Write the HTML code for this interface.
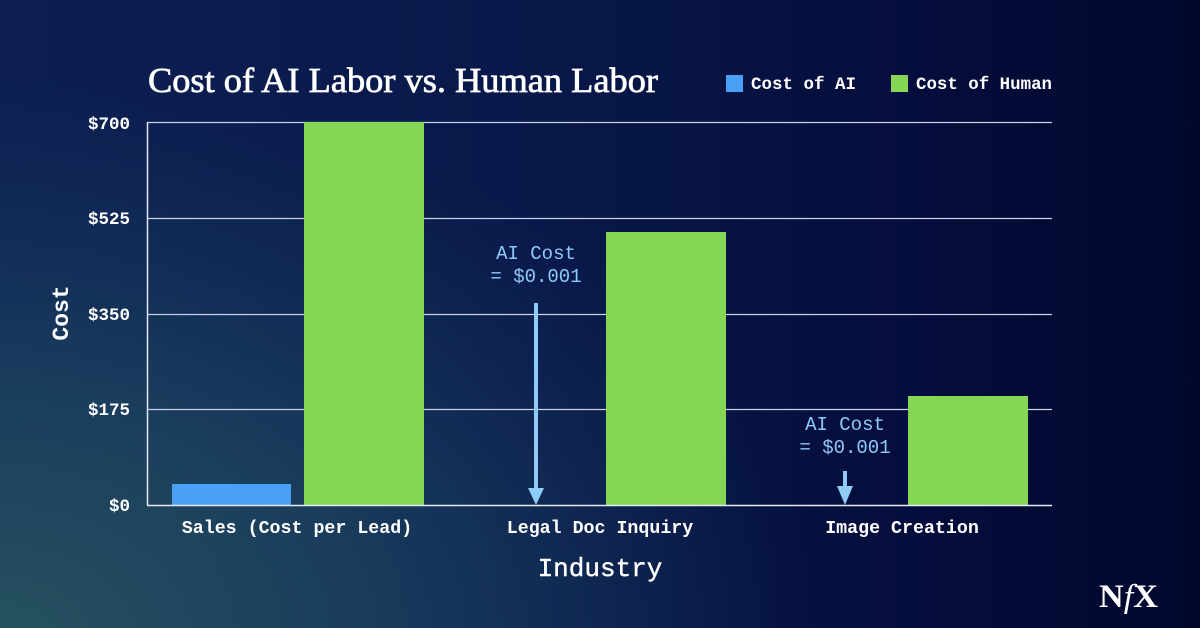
<!DOCTYPE html>
<html>
<head>
<meta charset="utf-8">
<style>
  html,body{margin:0;padding:0;}
  body{width:1200px;height:628px;overflow:hidden;}
  svg{display:block;}
</style>
</head>
<body>
<svg width="1200" height="628" viewBox="0 0 1200 628" xmlns="http://www.w3.org/2000/svg">
  <defs>
    <linearGradient id="bg" x1="0" y1="0" x2="1200" y2="0" gradientUnits="userSpaceOnUse">
      <stop offset="0" stop-color="#0d1f52"/>
      <stop offset="0.5" stop-color="#081748"/>
      <stop offset="0.8" stop-color="#040c3a"/>
      <stop offset="1" stop-color="#02072d"/>
    </linearGradient>
    <radialGradient id="teal" cx="0" cy="640" r="1" gradientUnits="userSpaceOnUse" gradientTransform="translate(0,640) scale(820,560) translate(0,-640)">
      <stop offset="0" stop-color="#27535f" stop-opacity="1"/>
      <stop offset="0.45" stop-color="#1d4560" stop-opacity="0.8"/>
      <stop offset="1" stop-color="#163a5e" stop-opacity="0"/>
    </radialGradient>
  </defs>
  <rect x="0" y="0" width="1200" height="628" fill="url(#bg)"/>
  <rect x="0" y="0" width="1200" height="628" fill="url(#teal)"/>

  <!-- Title -->
  <text x="148" y="92" font-family="Liberation Serif, serif" font-size="35" fill="#ffffff" stroke="#ffffff" stroke-width="0.7" textLength="510" lengthAdjust="spacingAndGlyphs">Cost of AI Labor vs. Human Labor</text>

  <!-- Legend -->
  <rect x="726" y="75" width="17" height="17" fill="#4a9ff7"/>
  <text x="751" y="89" font-family="Liberation Mono, monospace" font-size="17.5" font-weight="bold" fill="#ffffff" textLength="105" lengthAdjust="spacingAndGlyphs">Cost of AI</text>
  <rect x="891" y="75" width="17" height="17" fill="#86d655"/>
  <text x="916" y="89" font-family="Liberation Mono, monospace" font-size="17.5" font-weight="bold" fill="#ffffff" textLength="136" lengthAdjust="spacingAndGlyphs">Cost of Human</text>

  <!-- Gridlines -->
  <g stroke="#c9cfe8" stroke-width="1.2">
    <line x1="147" y1="122.5" x2="1052" y2="122.5"/>
    <line x1="147" y1="218.5" x2="1052" y2="218.5"/>
    <line x1="147" y1="314.5" x2="1052" y2="314.5"/>
    <line x1="147" y1="409.5" x2="1052" y2="409.5"/>
  </g>

  <!-- Bars -->
  <rect x="172" y="484" width="119" height="21" fill="#4a9ff7"/>
  <rect x="304" y="122" width="120" height="383" fill="#86d655"/>
  <rect x="606" y="232" width="120" height="273" fill="#86d655"/>
  <rect x="908" y="396" width="120" height="109" fill="#86d655"/>

  <!-- Axes -->
  <g stroke="#e6e9f5" stroke-width="1.5">
    <line x1="147.5" y1="122" x2="147.5" y2="505.5"/>
    <line x1="147" y1="505.5" x2="1052" y2="505.5"/>
  </g>

  <!-- Y tick labels -->
  <g font-family="Liberation Mono, monospace" font-size="17.5" font-weight="bold" fill="#ffffff" text-anchor="end">
    <text x="130" y="129">$700</text>
    <text x="130" y="224">$525</text>
    <text x="130" y="320">$350</text>
    <text x="130" y="415">$175</text>
    <text x="130" y="511">$0</text>
  </g>

  <!-- Y axis title -->
  <text transform="translate(68,313) rotate(-90)" font-family="Liberation Mono, monospace" font-size="23" font-weight="bold" fill="#ffffff" text-anchor="middle">Cost</text>

  <!-- X category labels -->
  <g font-family="Liberation Mono, monospace" font-size="18.3" font-weight="bold" fill="#ffffff" text-anchor="middle">
    <text x="297" y="533">Sales (Cost per Lead)</text>
    <text x="600" y="533">Legal Doc Inquiry</text>
    <text x="902" y="533">Image Creation</text>
  </g>

  <!-- X axis title -->
  <text x="600" y="576" font-family="Liberation Mono, monospace" font-size="26" fill="#ffffff" stroke="#ffffff" stroke-width="0.4" text-anchor="middle">Industry</text>

  <!-- Annotations -->
  <g font-family="Liberation Mono, monospace" font-size="19" fill="#8ecbf6" text-anchor="middle">
    <text x="536" y="259">AI Cost</text>
    <text x="536" y="282">= $0.001</text>
    <text x="845" y="430">AI Cost</text>
    <text x="845" y="453">= $0.001</text>
  </g>
  <g fill="#8ecbf6" stroke="none">
    <rect x="534" y="303" width="4" height="186"/>
    <polygon points="528,488 544,488 536,505"/>
    <rect x="843" y="471" width="4" height="17"/>
    <polygon points="837,486 853,486 845,505"/>
  </g>

  <!-- NfX logo -->
  <text x="1099" y="607" font-family="Liberation Serif, serif" font-size="33" font-weight="bold" fill="#ffffff" textLength="59" lengthAdjust="spacingAndGlyphs">N<tspan font-style="italic" font-weight="normal">f</tspan>X</text>
</svg>
</body>
</html>
